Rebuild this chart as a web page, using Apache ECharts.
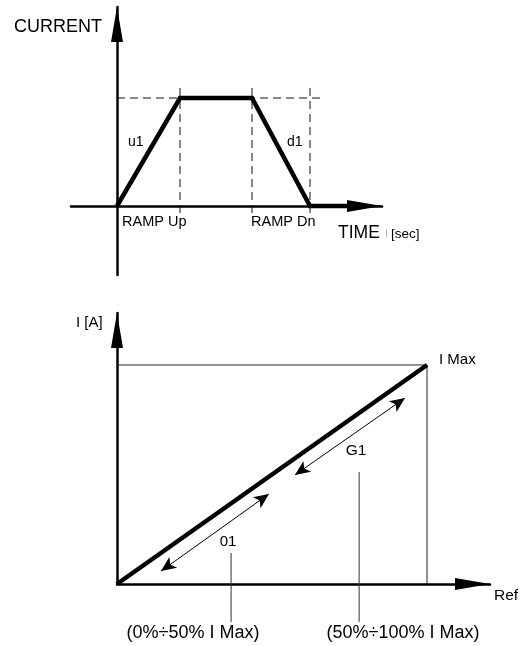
<!DOCTYPE html>
<html>
<head>
<meta charset="utf-8">
<script src="https://cdn.jsdelivr.net/npm/echarts@6/dist/echarts.min.js"></script>
<style>
html,body{margin:0;padding:0;background:#fff;}
#chart{width:526px;height:646px;}
</style>
</head>
<body>
<div id="chart"></div>
<script>
// ---- Top diagram: current ramp profile ----
const rampTime = [0, 6.3, 13.5, 19.3, 23];
const rampCurrent = [0, 10.8, 10.8, 0, 0];
const peakGuideEnd = 20.6;          // end of dashed peak guide (time units)
const rampMarkers = [6.3, 13.5, 19.3]; // dashed vertical guides
const guideTop = 11.8, guideBottom = -0.7;
const rampLabels = ['RAMP Up', 'RAMP Dn'];
const slopeLabels = ['u1', 'd1'];

// ---- Bottom diagram: current vs reference ----
const refPct = [0, 100];
const currentPct = [0, 100];
const g1Arrow = [[92.9, 84.9], [57.4, 49.8]];
const o1Arrow = [[49.0, 41.1], [14.2, 5.9]];
const leaderX = [36.8, 78.1];
const leaderTop = [14.2, 51.1];
const leaderBottom = -17.4;
const rangeLabels = ['(0%÷50% I Max)', '(50%÷100% I Max)'];
const gainLabels = ['01', 'G1'];

const FONT = 'Liberation Sans, Arial, sans-serif';
const chart = echarts.init(document.getElementById('chart'));

function pairs(xs, ys) { return xs.map((x, i) => [x, ys[i]]); }

const axisArrow = (w) => ({
  show: true, onZero: true,
  symbol: ['none', 'triangle'],
  symbolSize: [12, 35],
  symbolOffset: [0, -17.5],
  lineStyle: { color: '#000', width: w }
});
const hiddenAxisParts = {
  axisTick: { show: false }, axisLabel: { show: false }, splitLine: { show: false }
};

const series = [];
series.push({
  type: 'line', xAxisIndex: 0, yAxisIndex: 0, symbol: 'none', silent: true,
  data: pairs(rampTime, rampCurrent),
  lineStyle: { color: '#000', width: 4.5, join: 'miter' }, z: 5
});
series.push({
  type: 'line', xAxisIndex: 0, yAxisIndex: 0, symbol: 'none', silent: true,
  data: [[0, rampCurrent[1]], [peakGuideEnd, rampCurrent[1]]],
  lineStyle: { color: '#111', width: 1, type: [8, 5] }, z: 2
});
rampMarkers.forEach(t => series.push({
  type: 'line', xAxisIndex: 0, yAxisIndex: 0, symbol: 'none', silent: true,
  data: [[t, guideTop], [t, guideBottom]],
  lineStyle: { color: '#111', width: 1, type: [8, 5] }, z: 2
}));
series.push({
  type: 'line', xAxisIndex: 1, yAxisIndex: 1, symbol: 'none', silent: true,
  data: [[0, currentPct[1]], [refPct[1], currentPct[1]], [refPct[1], 0]],
  lineStyle: { color: '#222', width: 1 }, z: 2
});
series.push({
  type: 'line', xAxisIndex: 1, yAxisIndex: 1, symbol: 'none', silent: true,
  data: pairs(refPct, currentPct),
  lineStyle: { color: '#000', width: 4.5 }, z: 5,
  markLine: {
    silent: true, animation: false,
    symbol: ['arrow', 'arrow'], symbolSize: [10, 15],
    label: { show: false },
    lineStyle: { color: '#000', width: 1, type: 'solid' },
    data: [
      [{ coord: g1Arrow[0] }, { coord: g1Arrow[1] }],
      [{ coord: o1Arrow[0] }, { coord: o1Arrow[1] }]
    ]
  }
});
leaderX.forEach((x, i) => series.push({
  type: 'line', xAxisIndex: 1, yAxisIndex: 1, symbol: 'none', silent: true, clip: false,
  data: [[x, leaderTop[i]], [x, leaderBottom]],
  lineStyle: { color: '#333', width: 1 }, z: 2
}));

function txt(text, x, y, size, align) {
  return {
    type: 'text', x: x, y: y, silent: true,
    style: { text: text, fill: '#000', font: size + 'px ' + FONT,
      textAlign: align || 'left', textVerticalAlign: 'middle' }
  };
}

const option = {
  animation: false,
  backgroundColor: '#fff',
  grid: [
    { left: 71, top: 7, width: 311, height: 268, outerBoundsMode: 'none', containLabel: false },
    { left: 117, top: 313, width: 373, height: 271, outerBoundsMode: 'none', containLabel: false }
  ],
  xAxis: [
    Object.assign({ type: 'value', gridIndex: 0, min: -4.6, max: 26.5, axisLine: axisArrow(2.5) }, hiddenAxisParts),
    Object.assign({ type: 'value', gridIndex: 1, min: 0, max: 120.32, axisLine: axisArrow(2.5) }, hiddenAxisParts)
  ],
  yAxis: [
    Object.assign({ type: 'value', gridIndex: 0, min: -6.9, max: 19.9, axisLine: axisArrow(2.5) }, hiddenAxisParts),
    Object.assign({ type: 'value', gridIndex: 1, min: 0, max: 123.74, axisLine: axisArrow(2.5) }, hiddenAxisParts)
  ],
  series: series,
  graphic: [
    txt('CURRENT', 14, 27, 18),
    txt(slopeLabels[0], 128, 142, 14),
    txt(slopeLabels[1], 287, 142, 14),
    txt(rampLabels[0], 122, 222, 14.5),
    txt(rampLabels[1], 251, 222, 14.5),
    txt('TIME', 338, 233, 17.5),
    { type: 'line', silent: true, shape: { x1: 386.5, y1: 229, x2: 386.5, y2: 237 },
      style: { stroke: '#bbb', lineWidth: 1 } },
    txt('[sec]', 391, 234, 13.5),
    txt('I [A]', 76, 323, 15),
    txt('I Max', 439, 360, 15),
    txt(gainLabels[1], 356, 451, 15.5, 'center'),
    txt(gainLabels[0], 228, 542, 15, 'center'),
    txt(rangeLabels[0], 193, 633, 18, 'center'),
    txt(rangeLabels[1], 403, 633, 18, 'center'),
    txt('Ref', 494, 596, 15.5)
  ]
};
chart.setOption(option);
</script>
</body>
</html>
